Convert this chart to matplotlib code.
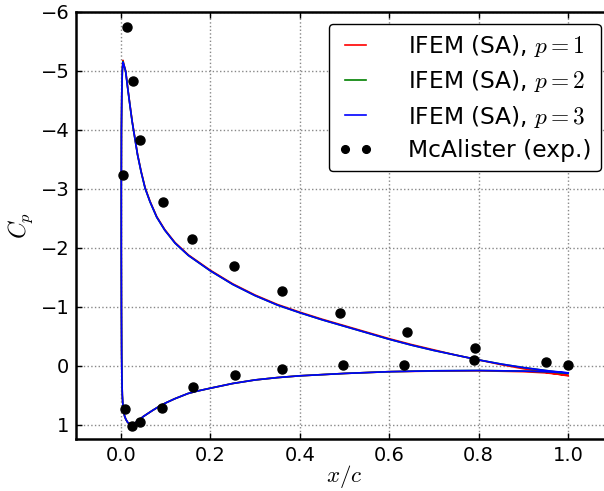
import matplotlib
matplotlib.use("Agg")
import matplotlib.pyplot as plt

plt.rcParams['mathtext.fontset'] = 'cm'
plt.rcParams['font.family'] = ['DejaVu Sans']

# Lower surface (trailing edge -> leading edge, wrapping round the nose)
x_lower = [1.0, 0.95, 0.9, 0.8, 0.7, 0.6, 0.5, 0.45, 0.4, 0.35, 0.3, 0.25, 0.2, 0.17, 0.15,
           0.12, 0.1, 0.085, 0.07, 0.06, 0.05, 0.042, 0.035, 0.03, 0.025, 0.02, 0.015, 0.011,
           0.008, 0.006, 0.0045, 0.003, 0.002, 0.0015, 0.001, 0.0007, 0.0007, 0.001, 0.0018, 0.003]
cp_lower_p3 = [0.12, 0.10, 0.09, 0.08, 0.085, 0.10, 0.13, 0.15, 0.17, 0.20, 0.24, 0.30, 0.38, 0.43, 0.47,
               0.56, 0.63, 0.69, 0.76, 0.81, 0.86, 0.91, 0.95, 0.98, 1.0, 0.99, 0.96, 0.91,
               0.85, 0.78, 0.70, 0.5, 0.2, -0.2, -1.0, -2.0, -3.0, -4.0, -4.6, -5.0]
cp_lower_p2 = [0.13, 0.10, 0.09, 0.08, 0.085, 0.10, 0.13, 0.15, 0.17, 0.20, 0.24, 0.30, 0.38, 0.43, 0.47,
               0.56, 0.63, 0.69, 0.76, 0.81, 0.86, 0.91, 0.95, 0.98, 1.0, 0.99, 0.96, 0.91,
               0.85, 0.78, 0.70, 0.5, 0.2, -0.2, -1.0, -2.0, -3.0, -4.0, -4.6, -5.0]
cp_lower_p1 = [0.16, 0.12, 0.10, 0.085, 0.09, 0.10, 0.13, 0.15, 0.17, 0.20, 0.24, 0.30, 0.38, 0.43, 0.47,
               0.56, 0.63, 0.69, 0.76, 0.81, 0.86, 0.91, 0.95, 0.98, 1.0, 0.99, 0.96, 0.91,
               0.85, 0.78, 0.70, 0.5, 0.2, -0.2, -1.0, -2.0, -3.0, -4.0, -4.62, -5.02]

# Upper surface (suction peak -> trailing edge)
x_upper = [0.0045, 0.0065, 0.0105, 0.015, 0.02, 0.025, 0.031, 0.037, 0.045, 0.054, 0.065, 0.08,
           0.098, 0.121, 0.151, 0.2, 0.25, 0.3, 0.35, 0.4, 0.45, 0.5, 0.55, 0.6, 0.65, 0.7,
           0.75, 0.8, 0.85, 0.9, 0.95, 1.0]
cp_upper_p3 = [-5.15, -5.10, -4.99, -4.71, -4.42, -4.14, -3.86, -3.58, -3.29, -3.01, -2.78, -2.52,
               -2.30, -2.08, -1.87, -1.61, -1.38, -1.19, -1.03, -0.90, -0.78, -0.67, -0.56, -0.45,
               -0.35, -0.26, -0.18, -0.10, -0.03, 0.03, 0.08, 0.12]
cp_upper_p2 = [-5.16, -5.10, -4.99, -4.71, -4.42, -4.14, -3.86, -3.58, -3.29, -3.01, -2.78, -2.52,
               -2.30, -2.08, -1.87, -1.61, -1.38, -1.19, -1.03, -0.90, -0.78, -0.67, -0.56, -0.45,
               -0.35, -0.26, -0.18, -0.10, -0.03, 0.03, 0.08, 0.13]
cp_upper_p1 = [-5.18, -5.11, -5.00, -4.72, -4.43, -4.15, -3.87, -3.59, -3.30, -3.02, -2.79, -2.53,
               -2.31, -2.09, -1.88, -1.62, -1.39, -1.20, -1.04, -0.91, -0.79, -0.68, -0.57, -0.46,
               -0.36, -0.27, -0.18, -0.10, -0.02, 0.05, 0.11, 0.17]

# McAlister experimental data
x_exp = [0.0037, 0.0127, 0.0276, 0.0425, 0.093, 0.16, 0.253, 0.36, 0.49, 0.641, 0.791, 0.79, 0.95, 1.0,
         0.009, 0.024, 0.043, 0.091, 0.162, 0.254, 0.36, 0.496, 0.634]
cp_exp = [-3.24, -5.75, -4.83, -3.83, -2.78, -2.15, -1.70, -1.26, -0.89, -0.58, -0.31, -0.10, -0.06, -0.02,
          0.73, 1.02, 0.96, 0.71, 0.36, 0.16, 0.05, -0.02, -0.02]

labels = [r'IFEM (SA), $p=1$', r'IFEM (SA), $p=2$', r'IFEM (SA), $p=3$', 'McAlister (exp.)']
xticks = [0.0, 0.2, 0.4, 0.6, 0.8, 1.0]
yticks = [-6, -5, -4, -3, -2, -1, 0, 1]

fig = plt.figure(figsize=(6.04, 4.91), dpi=100)
fig.patch.set_facecolor('white')
ax = fig.add_axes([0.1263, 0.1049, 0.888, 0.8707])

ax.plot(x_lower + x_upper, cp_lower_p1 + cp_upper_p1, color='#ff0000', lw=1.2, label=labels[0])
ax.plot(x_lower + x_upper, cp_lower_p2 + cp_upper_p2, color='#008000', lw=1.2, label=labels[1])
ax.plot(x_lower + x_upper, cp_lower_p3 + cp_upper_p3, color='#0000ff', lw=1.2, label=labels[2])
ax.plot(x_exp, cp_exp, 'o', color='k', markersize=6.5, label=labels[3])

ax.set_xlim(-0.1, 1.1)
ax.set_ylim(1.25, -6)
ax.set_xticks(xticks)
ax.set_yticks(yticks)
ax.set_xticklabels(['%.1f' % v for v in xticks])
ax.set_yticklabels(['\u2212%d' % abs(v) if v < 0 else '%d' % v for v in yticks])
ax.tick_params(direction='in', length=4, width=1, labelsize=14, pad=5, top=True, right=True)
ax.grid(True, color='#888888', linestyle=':', linewidth=1.0)
for s in ax.spines.values():
    s.set_linewidth(1.8)

ax.set_xlabel(r'$x/c$', fontsize=16.5, labelpad=-2)
ax.set_ylabel(r'$C_p$', fontsize=17, labelpad=4)

leg = ax.legend(loc='upper right', fontsize=16.8, numpoints=2, fancybox=True,
                framealpha=1.0, edgecolor='k', handlelength=1.5, borderaxespad=0.5,
                labelspacing=0.4, handletextpad=1.5, borderpad=0.4, markerscale=0.85)
leg.get_frame().set_linewidth(1.0)

fig.savefig('out.png', dpi=100, facecolor='white')
